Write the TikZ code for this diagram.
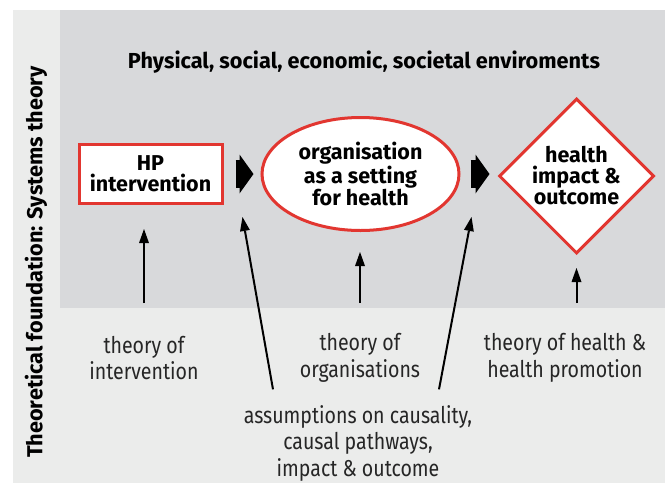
\documentclass[tikz,border=0pt]{standalone}
\usepackage{fontspec}
\setmainfont{Fira Sans}
\newfontfamily\condfont[FakeStretch=0.85]{Fira Sans}
\usetikzlibrary{calc}
\usetikzlibrary{arrows.meta}
\usetikzlibrary{shapes}
\usetikzlibrary{positioning}
\definecolor{hpred}{RGB}{226,54,48}
\definecolor{envgrey}{RGB}{216,217,219}
\definecolor{basegrey}{RGB}{235,236,235}
\tikzset{
	every path/.style={thick},
	align=center,
	setting/.style={
		draw=hpred,
		fill=white,
		line width=3pt,
		inner sep=0pt,
		font=\bfseries\fontsize{21.5}{21}\selectfont,
	},
	hpbox/.style={
		setting,
		rectangle,
		minimum width=143,
		minimum height=59,
	},
	orgellipse/.style={
		setting,
		ellipse,
		minimum width=197,
		minimum height=113,
	},
	outcome/.style={
		setting,
		diamond,
		minimum width=155,
		minimum height=155,
	},
	heading/.style={
		font=\bfseries\fontsize{21.7}{24}\selectfont,
	},
	theory/.style={
		font=\condfont\fontsize{23}{26.5}\selectfont,
		text=black!85,
	},
	flow/.style={
		line width=28pt,
		-{Triangle[length=14pt,width=39pt,line width=0pt]}
	},
	lift/.style={
		line width=2pt,
		-{Triangle[length=14pt,width=10pt,line width=0pt]}
	},
}

\begin{document}
\begin{tikzpicture}[x=1pt,y=-1pt]
		\useasboundingbox (0,0) rectangle (667,488);

		% background panels
		\fill[basegrey] (13,10) rectangle (665,483);
		\fill[envgrey] (60,10) rectangle (665,308);
		\coordinate (edge) at (0,303);

		\node[heading] (env) at (364,62) {Physical, social, economic, societal enviroments};
		\node[heading,rotate=90] (found) at (36,262) {Theoretical foundation: Systems theory};

		\node[hpbox]      (hp)  at (150.5,174) {HP\\intervention};
		\node[orgellipse] (org) at (360.5,174) {organisation\\as a setting\\for health};
		\node[outcome]    (out) at (576.5,176) {health\\impact \&\\outcome};

		\node[theory] (tint)    at (144,358) {theory of\\intervention};
		\node[theory] (torg)    at (360,358) {theory of\\organisations};
		\node[theory] (thealth) at (565,358) {theory of health \&\\health promotion};
		\node[theory] (assume)  at (358,443) {assumptions on causality,\\causal pathways,\\impact \& outcome};

		\draw[flow] ($(hp.east)+(12,0)$) -- ($(org.west)+(-7,0)$);
		\draw[flow] ($(org.east)+(10,0)$) -- ($(org.east -| out.west)+(-8,0)$);

		\draw[lift] (tint.north |- edge) -- ($(tint.north |- hp.south)+(0,24)$);
		\draw[lift] (torg.north |- edge) -- ($(torg.north |- org.south)+(0,20)$);
		\draw[lift] (out.south |- edge) -- ($(out.south)+(0,13)$);

		\draw[lift] ($(assume.north)+(-85,-12)$) -- ($(org.west)+(-18,43)$);
		\draw[lift] ($(assume.north)+(81,-12)$) -- ($(org.east)+(11,43)$);

	\end{tikzpicture}
\end{document}
